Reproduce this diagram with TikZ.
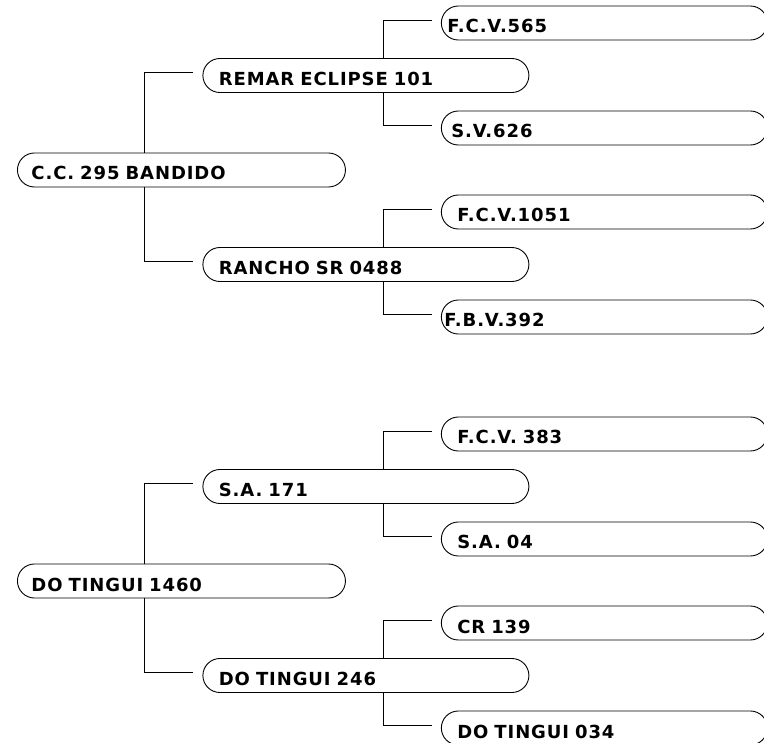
\documentclass[tikz,border=0pt]{standalone}
\usepackage{fontspec}
\newfontfamily\horsefont[LetterSpace=5]{DejaVu Sans}
\usetikzlibrary{trees}

\begin{document}
\begin{tikzpicture}[
    every node/.style={draw, line width=0.9pt, rounded corners=17pt, anchor=west,
        inner xsep=16pt, inner ysep=0pt, text width=294pt, align=left,
        text height=27pt, text depth=7pt,
        font=\horsefont\bfseries\fontsize{18}{20}\selectfont},
    founder/.style={inner xsep=14pt, text width=300pt},
    pull/.style={execute at begin node={\hspace*{-#1}}},
    grow'=right,
    level 1/.style={sibling distance=189pt, level distance=21pt},
    level 2/.style={sibling distance=105pt, level distance=75pt},
    sire/.style={edge from parent path={([xshift=#1]\tikzparentnode.north west) |- ([xshift=-9pt,yshift=3pt]\tikzchildnode.west)}},
    dam/.style={edge from parent path={([xshift=#1]\tikzparentnode.south west) |- ([xshift=-9pt,yshift=3pt]\tikzchildnode.west)}},
    edge from parent/.style={draw, line width=0.8pt}
]
\useasboundingbox (0,0) rectangle (764pt,-743pt);
\clip (0,0) rectangle (764pt,-743pt);

% first pedigree
\node[founder] (cc295) at (17pt,-170pt) {C.C. 295 BANDIDO}
    child[sire=127pt] { node (remar101) {REMAR ECLIPSE 101}
        child[sire=181pt] { node[pull=10pt] (fcv565) {F.C.V.565} }
        child[dam=181pt] { node[pull=6pt] (sv626) {S.V.626} }
    }
    child[dam=127pt] { node (rancho0488) {RANCHO SR 0488}
        child[sire=181pt] { node (fcv1051) {F.C.V.1051} }
        child[dam=181pt] { node[pull=13pt] (fbv392) {F.B.V.392} }
    };

% second pedigree
\node[founder] (tingui1460) at (17pt,-581pt) {DO TINGUI 1460}
    child[sire=127pt] { node (sa171) {S.A. 171}
        child[sire=181pt] { node (fcv383) {F.C.V. 383} }
        child[dam=181pt] { node (sa04) {S.A. 04} }
    }
    child[dam=127pt] { node (tingui246) {DO TINGUI 246}
        child[sire=181pt] { node (cr139) {CR 139} }
        child[dam=181pt] { node (tingui034) {DO TINGUI 034} }
    };
\end{tikzpicture}
\end{document}
